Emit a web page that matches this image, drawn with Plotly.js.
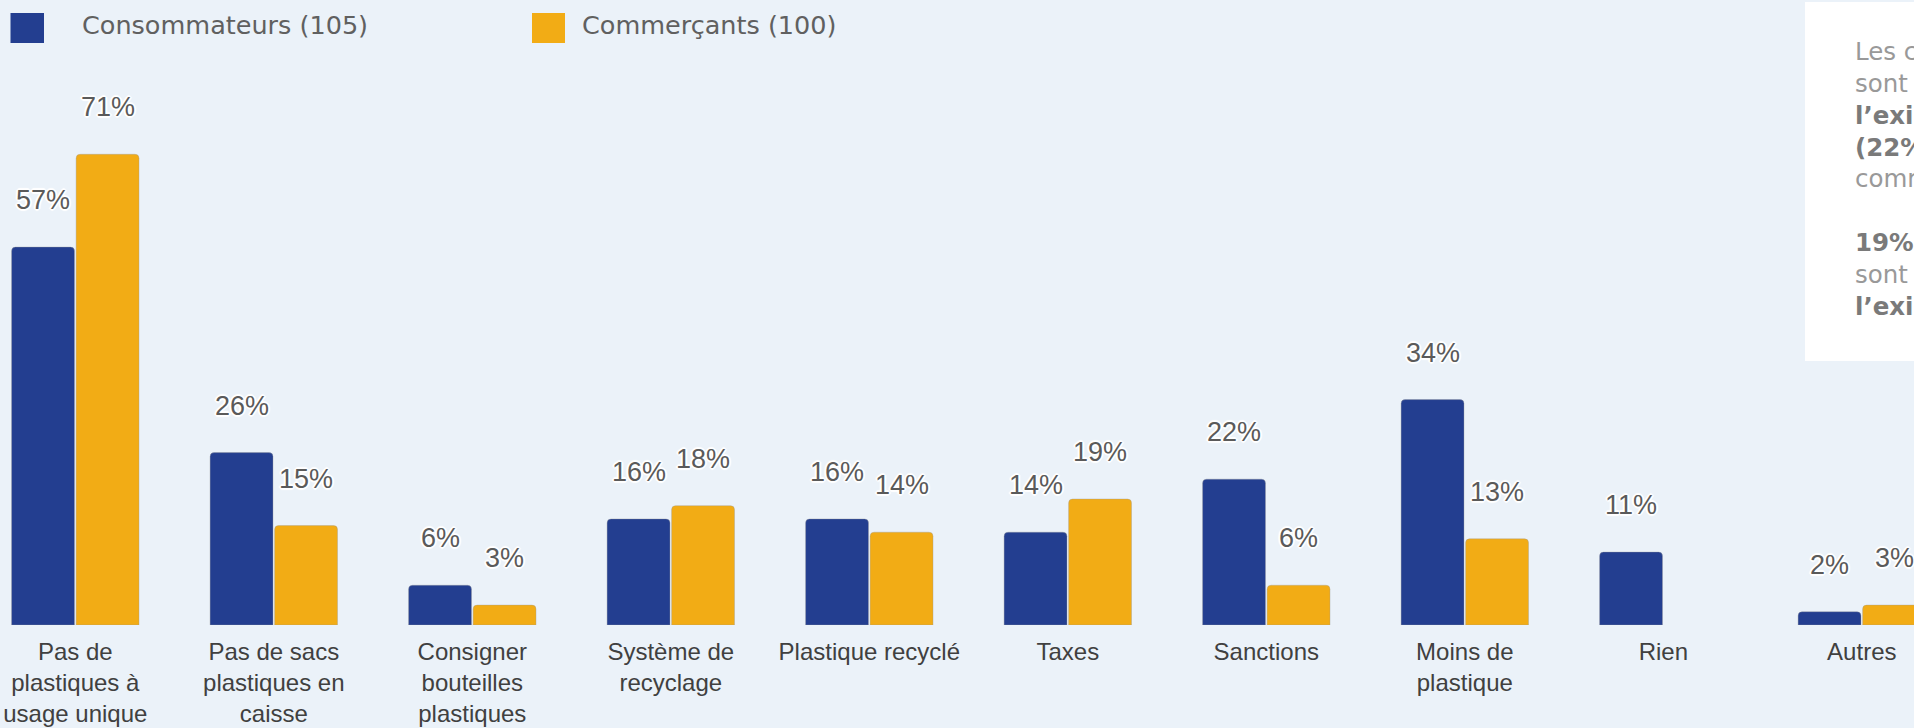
<!DOCTYPE html>
<html>
<head>
<meta charset="utf-8">
<script src="https://cdn.plot.ly/plotly-3.0.1.min.js"></script>
<style>
  html, body { margin: 0; padding: 0; background: #EBF2F9; }
  #chart { width: 1914px; height: 728px; }
</style>
</head>
<body>
<div id="chart"></div>
<script>
// ---- Data ----
const categories = [
  "Pas de<br>plastiques à<br>usage unique",
  "Pas de sacs<br>plastiques en<br>caisse",
  "Consigner<br>bouteilles<br>plastiques",
  "Système de<br>recyclage",
  "Plastique recyclé",
  "Taxes",
  "Sanctions",
  "Moins de<br>plastique",
  "Rien",
  "Autres"
];
const consommateurs = [57, 26, 6, 16, 16, 14, 22, 34, 11, 2];
const commercants = [71, 15, 3, 18, 14, 19, 6, 13, null, 3];
const seriesNames = ["Consommateurs (105)", "Commerçants (100)"];
const seriesColors = ["#233E90", "#F2AC15"];
const noteText =
  "Les consommateurs<br>sont favorables à<br><b><span style='color:#7A7A7A'>l’existence de sanctions</span></b><br><b><span style='color:#7A7A7A'>(22%)</span></b> contre 6% des<br>commerçants.<br><br>" +
  "<b><span style='color:#7A7A7A'>19%</span></b> des commerçants<br>sont favorables à<br><b><span style='color:#7A7A7A'>l’existence de taxes</span></b>";

// ---- Layout constants (pixels) ----
const W = 1914, H = 728;
const plotTop = 80, plotBottom = 625;
const catStep = 198.5, firstCenter = 75.3;
const bargap = 0.35, bargroupgap = 0.025;
const yMax = (plotBottom - plotTop) / 6.63;

const idx = categories.map((_, i) => i);
const px2x = px => px / W;
const px2y = py => (plotBottom - py) / (plotBottom - plotTop);

const xRange = [-firstCenter / catStep, (W - firstCenter) / catStep];

const traces = [consommateurs, commercants].map((vals, k) => ({
  type: "bar",
  x: idx,
  y: vals,
  name: seriesNames[k],
  marker: { color: seriesColors[k], cornerradius: 4, line: { width: 0.6, color: "rgba(150,150,150,0.6)" } },
  hoverinfo: "skip",
  showlegend: false
}));

const slotPx = catStep * (1 - bargap) / 2;
const haloShadow = "2px 0 1px #fff, -2px 0 1px #fff, 0 2px 1px #fff, 0 -2px 1px #fff, 1px 1px 1px #fff, -1px -1px 1px #fff, 1px -1px 1px #fff, -1px 1px 1px #fff";
const annotations = [];
[consommateurs, commercants].forEach((vals, k) => {
  vals.forEach((v, i) => {
    if (v === null) return;
    annotations.push({
      x: i, y: v, xref: "x", yref: "y",
      text: v + "%",
      showarrow: false,
      xanchor: "center", yanchor: "middle",
      xshift: (k === 0 ? -1 : 1) * slotPx / 2,
      yshift: 47,
      font: { family: "Liberation Sans, Arial, sans-serif", size: 27, color: "#5A5A5A", shadow: haloShadow }
    });
  });
});

// legend (drawn manually)
const legendItems = [
  { sq: [10.5, 44], tx: 80 },
  { sq: [532, 565], tx: 580 }
];
const shapes = [];
legendItems.forEach((it, k) => {
  shapes.push({
    type: "rect", xref: "paper", yref: "paper",
    x0: px2x(it.sq[0]), x1: px2x(it.sq[1]),
    y0: px2y(43), y1: px2y(13),
    fillcolor: seriesColors[k], line: { width: 0 }, layer: "above"
  });
  annotations.push({
    xref: "paper", yref: "paper",
    x: px2x(it.tx), y: px2y(25),
    xanchor: "left", yanchor: "middle",
    text: seriesNames[k], showarrow: false,
    font: { family: "DejaVu Sans, sans-serif", size: 25.5, color: "#606060" }
  });
});

// white note box
shapes.push({
  type: "rect", xref: "paper", yref: "paper",
  x0: px2x(1805), x1: px2x(2000),
  y0: px2y(361), y1: px2y(2),
  fillcolor: "#FFFFFF", line: { width: 0 }, layer: "above"
});
annotations.push({
  xref: "paper", yref: "paper",
  x: px2x(1853), y: px2y(35),
  xanchor: "left", yanchor: "top", align: "left",
  text: noteText, showarrow: false,
  font: { family: "DejaVu Sans, sans-serif", size: 24.5, color: "#999999" }
});

const layout = {
  width: W, height: H,
  paper_bgcolor: "#EBF2F9",
  plot_bgcolor: "#EBF2F9",
  margin: { l: 0, r: 0, t: plotTop, b: H - plotBottom, pad: 0 },
  barmode: "group",
  bargap: bargap,
  bargroupgap: bargroupgap,
  showlegend: false,
  xaxis: {
    type: "linear",
    range: xRange,
    tickvals: idx,
    ticktext: categories,
    showgrid: false, zeroline: false, showline: false,
    ticks: "",
    ticklabelstandoff: 10,
    tickfont: { family: "Liberation Sans, Arial, sans-serif", size: 24, color: "#404040" },
    fixedrange: true
  },
  yaxis: {
    range: [0, yMax],
    showgrid: false, zeroline: false, showline: false,
    showticklabels: false, ticks: "",
    fixedrange: true
  },
  shapes: shapes,
  annotations: annotations
};

Plotly.newPlot("chart", traces, layout, { staticPlot: true, displayModeBar: false });
</script>
</body>
</html>
